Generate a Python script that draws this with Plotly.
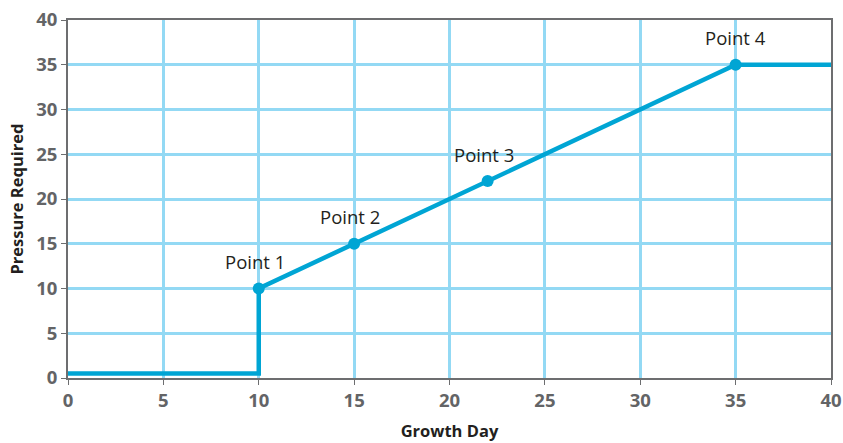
import plotly.graph_objects as go

# Data
line_x = [0, 10, 10, 15, 22, 35, 40]
line_y = [0.5, 0.5, 10, 15, 22, 35, 35]
point_x = [10, 15, 22, 35]
point_y = [10, 15, 22, 35]
point_labels = ["Point 1", "Point 2", "Point 3", "Point 4"]
x_ticks = [0, 5, 10, 15, 20, 25, 30, 35, 40]
y_ticks = [0, 5, 10, 15, 20, 25, 30, 35, 40]

LINE_COLOR = "#00a5d4"
GRID_COLOR = "#93d9f4"
AXIS_COLOR = "#6d6e70"
TICK_COLOR = "#636466"
FONT = "Open Sans, DejaVu Sans, sans-serif"

fig = go.Figure()
fig.add_trace(go.Scatter(x=line_x, y=line_y, mode="lines",
                         line=dict(color=LINE_COLOR, width=4.5),
                         hoverinfo="skip", showlegend=False))
fig.add_trace(go.Scatter(x=point_x, y=point_y, mode="markers",
                         marker=dict(color=LINE_COLOR, size=12),
                         showlegend=False))

for x, y, t in zip(point_x, point_y, point_labels):
    fig.add_annotation(x=x, y=y, text=t, showarrow=False,
                       xshift=-4 if x != 35 else 0, yshift=27,
                       font=dict(family=FONT, size=18.5, color="#231f20"))

fig.update_layout(
    width=843, height=443,
    margin=dict(l=68, r=12, t=20, b=65, autoexpand=False),
    plot_bgcolor="white", paper_bgcolor="white",
    font=dict(family=FONT),
)
fig.update_xaxes(range=[0, 40], tickvals=x_ticks, ticktext=[str(v) for v in x_ticks],
                 showgrid=True, gridcolor=GRID_COLOR, gridwidth=3,
                 showline=True, linecolor=AXIS_COLOR, linewidth=2, mirror=True,
                 ticks="outside", tickcolor=AXIS_COLOR, ticklen=5, tickwidth=1,
                 tickfont=dict(family=FONT, size=18.5, color=TICK_COLOR, weight="bold"),
                 ticklabeloverflow="allow",
                 title=dict(text="<b>Growth Day</b>", font=dict(family=FONT, size=16.5, color="#231f20"),
                            standoff=14),
                 zeroline=False, automargin=False)
fig.update_yaxes(range=[0, 40], tickvals=y_ticks, ticktext=[str(v) for v in y_ticks],
                 showgrid=True, gridcolor=GRID_COLOR, gridwidth=3,
                 showline=True, linecolor=AXIS_COLOR, linewidth=2, mirror=True,
                 ticks="outside", tickcolor=AXIS_COLOR, ticklen=5, tickwidth=1,
                 tickfont=dict(family=FONT, size=18.5, color=TICK_COLOR, weight="bold"),
                 ticklabeloverflow="allow",
                 title=dict(text="<b>Pressure Required</b>", font=dict(family=FONT, size=16.5, color="#231f20"),
                            standoff=8),
                 zeroline=False, automargin=False)

fig.write_html(
    "out.html",
    config={"displayModeBar": False},
    post_script="document.body.style.margin='0';document.body.style.overflow='hidden';",
)
